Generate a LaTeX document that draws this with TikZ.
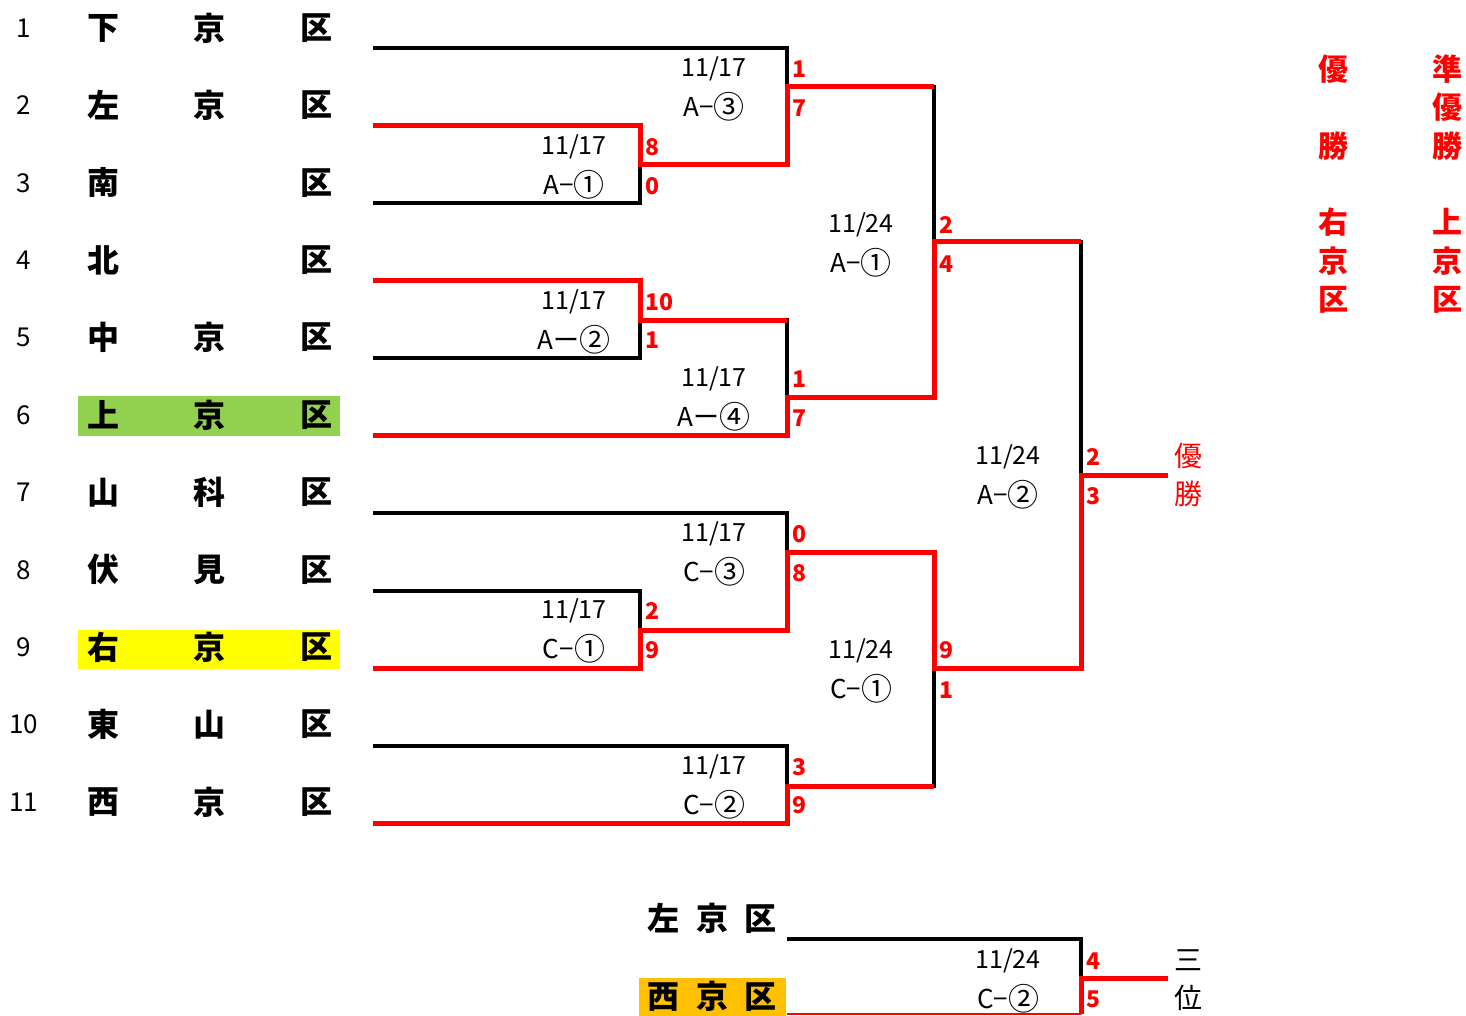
\documentclass[tikz,border=0pt]{standalone}
\usepackage{fontspec}
\setmainfont{Noto Sans CJK JP}
\definecolor{grn}{HTML}{92D050}
\definecolor{yel}{HTML}{FFFF00}
\definecolor{org}{HTML}{FFC000}
\newcommand\cnum[1]{{\fontsize{31}{31}\selectfont\raisebox{-2.5pt}{#1}}}
\begin{document}
\begin{tikzpicture}[x=1pt, y=-1pt, line join=miter,
	blk/.style={line width=4pt},
	won/.style={red, line width=5pt},
	team/.style={font=\bfseries\fontsize{32}{32}\selectfont, inner sep=0pt},
	seed/.style={font=\fontsize{26}{26}\selectfont, inner sep=0pt},
	date/.style={font=\fontsize{25}{25}\selectfont, inner sep=0pt},
	tag/.style={font=\fontsize{26}{26}\selectfont, inner sep=0pt},
	score/.style={red, font=\bfseries\fontsize{23}{23}\selectfont, inner sep=0pt, anchor=west},
	rank/.style={red, font=\bfseries\fontsize{30}{30}\selectfont, inner sep=0pt}]
	\useasboundingbox (0,0) rectangle (1466,1016);
	\def\xa{640} \def\xb{787} \def\xc{934} \def\xd{1081} % rounds
	\fill[grn] (78,396) rectangle (340,436);
	\fill[yel] (78,630) rectangle (340,669);
	\fill[org] (639,978) rectangle (786,1016);
	% teams
	\foreach \i/\a/\b in {1/下/京,2/左/京,3/南/,4/北/,5/中/京,6/上/京,7/山/科,8/伏/見,9/右/京,10/東/山,11/西/京}{
		\pgfmathsetmacro\ty{28+(\i-1)*77.4}
		\pgfmathsetmacro\ly{48+(\i-1)*77.5}
		\node[seed] (n\i) at (24,\ty) {\i};
		\node[team] (a\i) at (103,\ty) {\a};
		\node[team] (b\i) at (209,\ty) {\b};
		\node[team] (c\i) at (316,\ty) {区};
		\coordinate (t\i) at (373,\ly);
	}
	\coordinate (jA1) at (\xa,165); \coordinate (jA2) at (\xa,320); \coordinate (jC1) at (\xa,630);
	\coordinate (jA3) at (\xb,87); \coordinate (jA4) at (\xb,397);
	\coordinate (jC3) at (\xb,552); \coordinate (jC2) at (\xb,786);
	\coordinate (jS1) at (\xc,242); \coordinate (jS2) at (\xc,668);
	\coordinate (jF) at (\xd,475); \coordinate (champ) at (1168,475);
	\coordinate (t12) at (\xb,939); \coordinate (t13) at (\xb,1014);
	\coordinate (j3) at (\xd,978); \coordinate (third) at (1168,978);
	% bracket
	\draw[blk] (t1) -| (jA3) (t2) -| (jA1) (t3) -| (jA1) (jA1) -| (jA3)
		(t4) -| (jA2) (t5) -| (jA2) (jA2) -| (jA4) (t6) -| (jA4)
		(jA3) -| (jS1) (jA4) -| (jS1)
		(t7) -| (jC3) (t8) -| (jC1) (t9) -| (jC1) (jC1) -| (jC3)
		(t10) -| (jC2) (t11) -| (jC2) (jC3) -| (jS2) (jC2) -| (jS2)
		(jS1) -| (jF) (jS2) -| (jF) (t12) -| (j3);
	\draw[won] (t2) -| (jA1) -| (jA3) -- (jA3 -| jS1);
	\draw[won] (t4) -| (jA2) -- (jA2 -| jA4);
	\draw[won] (t6) -| (jA4) -| (jS1) -- (jS1 -| jF);
	\draw[won] (t9) -| (jC1) -| (jC3) -| (jS2) -| (jF) -- (champ);
	\draw[won] (t11) -| (jC2) -- (jC2 -| jS2);
	\draw[red, line width=2pt] (t13) -- (t13 -| j3);
	\draw[won] (t13 -| j3) -- (j3) -- (third);
	% matches
	\foreach \m/\x/\y/\d/\l in {mA1/574/147/17/A−\cnum{①}, mA2/574/302/17/Aー\cnum{②}, mA3/714/69/17/A−\cnum{③},
		mA4/714/379/17/Aー\cnum{④}, mC1/574/611/17/C−\cnum{①}, mC2/714/767/17/C−\cnum{②}, mC3/714/534/17/C−\cnum{③},
		mS1/861/225/24/A−\cnum{①}, mS2/861/651/24/C−\cnum{①}, mF/1008/457/24/A−\cnum{②}, mT/1008/961/24/C−\cnum{②}}{
		\node[date] (\m d) at (\x,\y) {11/\d};
		\node[tag] (\m l) at (\x,\y+38) {\l};
	}
	% scores
	\foreach \s/\x/\y/\v in {a1/645/147/8, a2/645/186/0, b1/792/69/1, b2/792/108/7,
		c1/645/302/10, c2/645/340/1, d1/792/379/1, d2/792/418/7, e1/939/225/2, e2/939/264/4,
		f1/792/534/0, f2/792/573/8, g1/645/611/2, g2/645/650/9, h1/792/767/3, h2/792/805/9,
		i1/939/650/9, i2/939/690/1, k1/1086/457/2, k2/1086/496/3, l1/1086/961/4, l2/1086/999/5}
		\node[score] (s\s) at (\x,\y) {\v};
	\node[team] (left3) at (712,918) {左\hspace{17pt}京\hspace{17pt}区};
	\node[team] (west3) at (712,996) {西\hspace{17pt}京\hspace{17pt}区};
	\node[rank, font=\fontsize{28}{28}\selectfont] (yu) at (1188,456) {優};
	\node[rank, font=\fontsize{28}{28}\selectfont] (sho) at (1188,494) {勝};
	\node[date, font=\fontsize{28}{28}\selectfont] (san) at (1188,960) {三};
	\node[date, font=\fontsize{28}{28}\selectfont] (i) at (1188,998) {位};
	% results
	\foreach \c/\x/\y in {優/1333/69,勝/1333/146,右/1333/222,京/1333/261,区/1333/300,
		準/1447/69,優/1447/107,勝/1447/146,上/1447/222,京/1447/261,区/1447/300}
		\node[rank] (r\x-\y) at (\x,\y) {\c};
\end{tikzpicture}
\end{document}
